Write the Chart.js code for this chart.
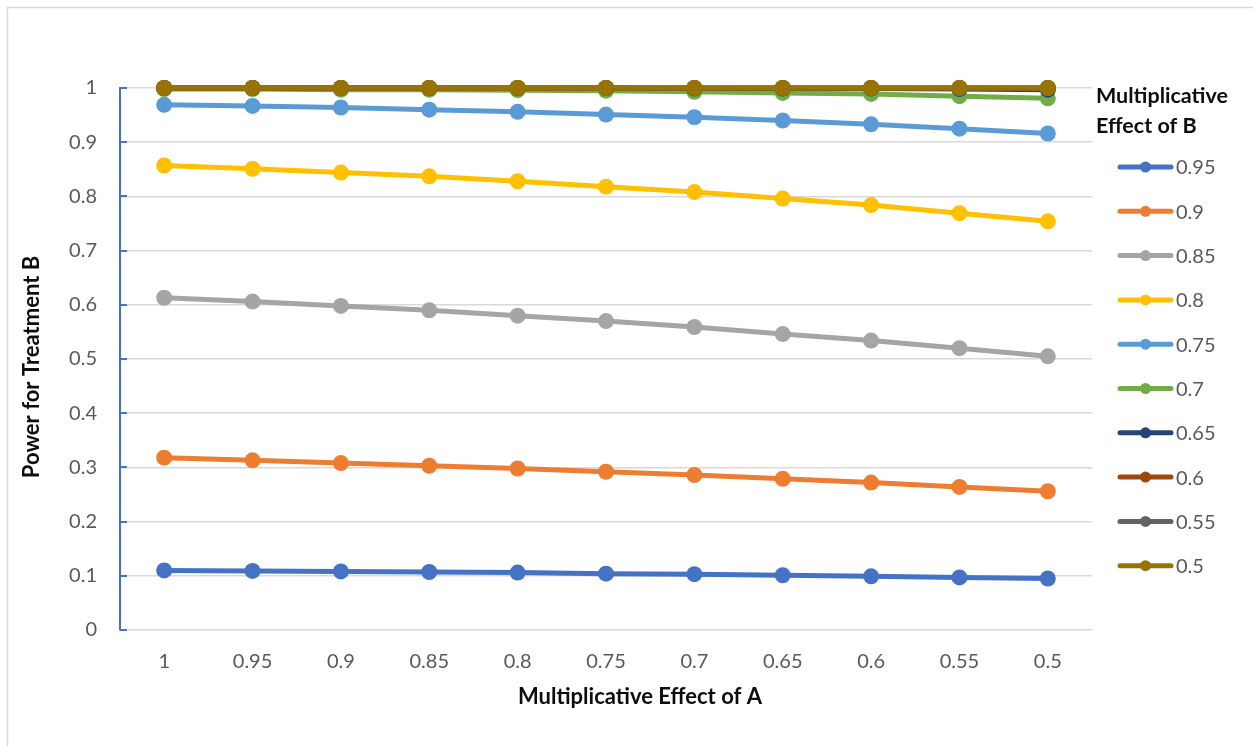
<!DOCTYPE html>
<html>
<head>
<meta charset="utf-8">
<script src="https://cdn.jsdelivr.net/npm/chart.js@4"></script>
<style>
  html, body { margin: 0; padding: 0; background: #ffffff; }
  #wrap { width: 1253px; height: 746px; }
</style>
</head>
<body>
<div id="wrap"><canvas id="c" width="1253" height="746"></canvas></div>
<script>
// Multiplicative effect of treatment A (x-axis categories)
const effectA = ['1', '0.95', '0.9', '0.85', '0.8', '0.75', '0.7', '0.65', '0.6', '0.55', '0.5'];
// Multiplicative effect of treatment B (one series each)
const effectB = ['0.95', '0.9', '0.85', '0.8', '0.75', '0.7', '0.65', '0.6', '0.55', '0.5'];
const seriesColors = ['#4472C4', '#ED7D31', '#A5A5A5', '#FFC000', '#5B9BD5', '#70AD47', '#264478', '#9E480E', '#636363', '#997300'];

// Power for treatment B, per effect of B, across effect of A
const powerB095 = [0.110, 0.109, 0.108, 0.107, 0.106, 0.104, 0.103, 0.101, 0.099, 0.097, 0.095];
const powerB090 = [0.318, 0.313, 0.308, 0.303, 0.298, 0.292, 0.286, 0.279, 0.272, 0.264, 0.256];
const powerB085 = [0.613, 0.606, 0.598, 0.590, 0.580, 0.570, 0.559, 0.546, 0.534, 0.520, 0.505];
const powerB080 = [0.857, 0.851, 0.844, 0.837, 0.828, 0.818, 0.808, 0.796, 0.784, 0.769, 0.754];
const powerB075 = [0.969, 0.967, 0.964, 0.960, 0.956, 0.951, 0.946, 0.940, 0.933, 0.925, 0.916];
const powerB070 = [0.998, 0.998, 0.997, 0.997, 0.996, 0.995, 0.993, 0.991, 0.989, 0.985, 0.981];
const powerB065 = [1.000, 1.000, 1.000, 1.000, 1.000, 1.000, 0.999, 0.999, 0.999, 0.998, 0.997];
const powerB060 = [1.000, 1.000, 1.000, 1.000, 1.000, 1.000, 1.000, 1.000, 1.000, 1.000, 1.000];
const powerB055 = [1.000, 1.000, 1.000, 1.000, 1.000, 1.000, 1.000, 1.000, 1.000, 1.000, 1.000];
const powerB050 = [1.000, 1.000, 1.000, 1.000, 1.000, 1.000, 1.000, 1.000, 1.000, 1.000, 1.000];

const yTicks = [0, 0.1, 0.2, 0.3, 0.4, 0.5, 0.6, 0.7, 0.8, 0.9, 1];

const xTitle = 'Multiplicative Effect of A';
const yTitle = 'Power for Treatment B';
const legendTitle = ['Multiplicative', 'Effect of B'];

const FONT = 'Lato, "Open Sans", sans-serif';
const allSeries = [powerB095, powerB090, powerB085, powerB080, powerB075, powerB070, powerB065, powerB060, powerB055, powerB050];

const datasets = allSeries.map((vals, i) => ({
  label: effectB[i],
  data: vals,
  borderColor: seriesColors[i],
  backgroundColor: seriesColors[i],
  borderWidth: 5,
  pointRadius: 8,
  pointHoverRadius: 8,
  pointBorderWidth: 0,
  pointBackgroundColor: seriesColors[i],
  tension: 0,
  clip: false,
  order: allSeries.length - 1 - i
}));

// Chart frame, inner tick marks, axis titles and the side legend
const decorations = {
  id: 'decorations',
  beforeDraw(chart) {
    const ctx = chart.ctx;
    ctx.save();
    ctx.fillStyle = '#ffffff';
    ctx.fillRect(0, 0, chart.width, chart.height);
    ctx.strokeStyle = '#d9d9d9';
    ctx.lineWidth = 1.5;
    ctx.beginPath();
    ctx.moveTo(7.5, chart.height);
    ctx.lineTo(7.5, 7.5);
    ctx.lineTo(chart.width, 7.5);
    ctx.stroke();
    ctx.restore();
  },
  beforeDatasetsDraw(chart) {
    const ctx = chart.ctx;
    const y = chart.scales.y;
    ctx.save();
    ctx.strokeStyle = '#4472C4';
    ctx.lineWidth = 2;
    yTicks.forEach(v => {
      const py = Math.round(y.getPixelForValue(v));
      ctx.beginPath();
      ctx.moveTo(y.right, py);
      ctx.lineTo(y.right + 7, py);
      ctx.stroke();
    });
    ctx.restore();
  },
  afterDraw(chart) {
    const ctx = chart.ctx;
    ctx.save();
    // axis titles
    ctx.fillStyle = '#0d0d0d';
    ctx.font = 'bold 22px ' + FONT;
    ctx.textAlign = 'center';
    ctx.textBaseline = 'middle';
    ctx.fillText(xTitle, 640, 697);
    ctx.translate(32, 367);
    ctx.rotate(-Math.PI / 2);
    ctx.fillText(yTitle, 0, 0);
    ctx.restore();

    // legend
    ctx.save();
    ctx.fillStyle = '#0d0d0d';
    ctx.font = 'bold 21.5px ' + FONT;
    ctx.textAlign = 'left';
    ctx.textBaseline = 'middle';
    legendTitle.forEach((t, k) => ctx.fillText(t, 1096, 96 + k * 30));
    ctx.font = '20px ' + FONT;
    chart.data.datasets.forEach((ds, i) => {
      const ly = 167 + i * 44.3;
      ctx.strokeStyle = ds.borderColor;
      ctx.lineWidth = 5;
      ctx.lineCap = 'round';
      ctx.beginPath();
      ctx.moveTo(1120, ly);
      ctx.lineTo(1171, ly);
      ctx.stroke();
      ctx.fillStyle = ds.borderColor;
      ctx.beginPath();
      ctx.arc(1145.5, ly, 5.5, 0, Math.PI * 2);
      ctx.fill();
      ctx.fillStyle = '#595959';
      ctx.fillText(ds.label, 1176, ly + 1);
    });
    ctx.restore();
  }
};

new Chart(document.getElementById('c'), {
  type: 'line',
  data: { labels: effectA, datasets },
  options: {
    responsive: false,
    animation: false,
    devicePixelRatio: 1,
    layout: { padding: { top: 88, right: 161, bottom: 0, left: 0 } },
    plugins: {
      legend: { display: false },
      tooltip: { enabled: false },
      title: { display: false }
    },
    scales: {
      x: {
        type: 'category',
        offset: true,
        grid: { display: false, drawTicks: false },
        border: { display: false },
        ticks: { color: '#595959', font: { family: FONT, size: 20 }, padding: 20, maxRotation: 0, autoSkip: false },
        afterFit(scale) { scale.height = 116; }
      },
      y: {
        min: 0,
        max: 1,
        afterBuildTicks(scale) { scale.ticks = yTicks.map(v => ({ value: v })); },
        grid: { color: '#d9d9d9', lineWidth: 1.5, drawTicks: false },
        border: { color: '#4472C4', width: 2 },
        ticks: {
          color: '#595959',
          font: { family: FONT, size: 20 },
          padding: 23,
          callback: v => String(Math.round(v * 10) / 10)
        },
        afterFit(scale) { scale.width = 120; }
      }
    }
  },
  plugins: [decorations]
});
</script>
</body>
</html>
